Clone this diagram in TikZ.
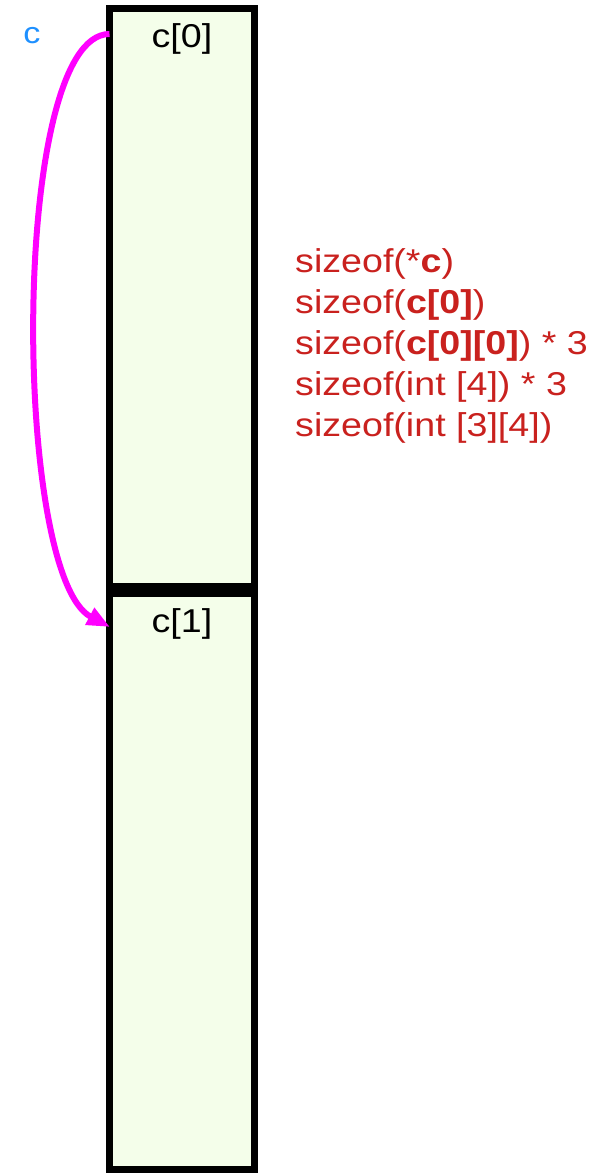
\documentclass[tikz,border=0pt]{standalone}
\usepackage{fontspec}
\setmainfont[FakeStretch=1.14]{Liberation Sans}
\usetikzlibrary{arrows.meta}
\definecolor{boxfill}{HTML}{F4FEEA}
\definecolor{sizered}{HTML}{C9211E}
\definecolor{ptrblue}{HTML}{1E90FF}
\definecolor{arrowmag}{HTML}{FF00FF}
\tikzset{
  membox/.style={draw=black, line width=7pt, fill=boxfill, rectangle, outer sep=0pt, inner sep=0pt, minimum width=145pt, line join=miter},
  celltext/.style={anchor=base, inner sep=0pt, font=\fontsize{33}{40}\selectfont, text=black},
  sizetext/.style={anchor=base west, inner sep=0pt, font=\fontsize{33}{40}\selectfont, text=sizered},
  ptrtext/.style={anchor=base, inner sep=0pt, font=\fontsize{30}{36}\selectfont, text=ptrblue},
  ptrarrow/.style={draw=arrowmag, line width=6pt, -{Triangle[length=23pt,width=18pt]}}
}
\begin{document}
\begin{tikzpicture}[x=1pt,y=-1pt]
\useasboundingbox (0,0) rectangle (611,1173);
\node[membox, minimum height=578pt] (c0) at (182,297.5) {};
\node[membox, minimum height=576pt] (c1) at (182,881.5) {};
\node[celltext] (c0lbl) at (182,47) {c[0]};
\node[celltext] (c1lbl) at (182,632) {c[1]};
\node[ptrtext] (clbl) at (32,43.3) {c};
\node[sizetext] (s1) at (295,272.5) {sizeof(*\textbf{c})};
\node[sizetext] (s2) at (295,313.5) {sizeof(\textbf{c[0]})};
\node[sizetext] (s3) at (295,354.5) {sizeof(\textbf{c[0][0]}) * 3};
\node[sizetext] (s4) at (295,395.5) {sizeof(int [4]) * 3};
\node[sizetext] (s5) at (295,436.5) {sizeof(int [3][4])};
\coordinate (pstart) at (109.5,34);
\coordinate (pend) at (110,627);
\draw[ptrarrow] (pstart) .. controls (10,34) and (12,575) .. (pend);
\end{tikzpicture}
\end{document}
